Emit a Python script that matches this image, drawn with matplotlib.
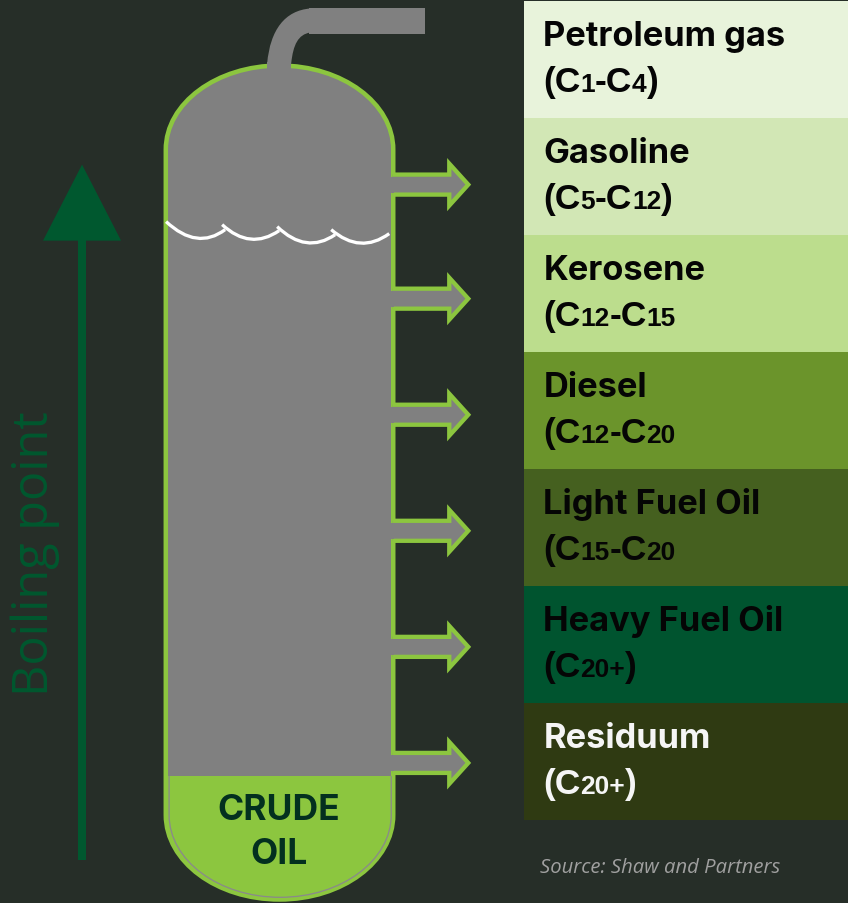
import matplotlib
matplotlib.use('Agg')
import matplotlib.pyplot as plt
from matplotlib.patches import PathPatch, Polygon, Rectangle
from matplotlib.path import Path

# fractions, top to bottom
fractions = ['Petroleum gas', 'Gasoline', 'Kerosene', 'Diesel',
             'Light Fuel Oil', 'Heavy Fuel Oil', 'Residuum']
carbon_low = ['1', '5', '12', '12', '15', '20+', '20+']
carbon_high = ['4', '12', '15', '20', '20', None, None]
closing = [')', ')', '', '', '', ')', ')']
panel_colors = ['#e8f3db', '#d2e7b5', '#bcdd8d', '#6b942b',
                '#45601f', '#00542f', '#2f3a12']
text_colors = ['#050505', '#050505', '#050505', '#050505',
               '#050505', '#050505', '#f5f5f5']
outlet_y = [185, 299, 415, 531, 647, 763]

BG = '#262e28'
GREEN = '#8cc63f'
GREY = '#808080'
DARK = '#00582f'

fig = plt.figure(figsize=(8.485, 9.035), dpi=100, facecolor=BG)
ax = fig.add_axes([0, 0, 1, 1])
ax.set_xlim(0, 848)
ax.set_ylim(903, 0)
ax.axis('off')
LW = 72 / 100  # one pixel in points

# vessel shape
K = 0.5523
def vessel_path(l, r, top, dome_t, dome_b, bot):
    cx = (l + r) / 2
    rx = (r - l) / 2
    t = dome_t - top
    b = bot - dome_b
    verts = [(l, dome_b), (l, dome_t),
             (l, dome_t - K * t), (cx - K * rx, top), (cx, top),
             (cx + K * rx, top), (r, dome_t - K * t), (r, dome_t),
             (r, dome_b),
             (r, dome_b + K * b), (cx + K * rx, bot), (cx, bot),
             (cx - K * rx, bot), (l, dome_b + K * b), (l, dome_b),
             (l, dome_b)]
    codes = [Path.MOVETO, Path.LINETO,
             Path.CURVE4, Path.CURVE4, Path.CURVE4,
             Path.CURVE4, Path.CURVE4, Path.CURVE4,
             Path.LINETO,
             Path.CURVE4, Path.CURVE4, Path.CURVE4,
             Path.CURVE4, Path.CURVE4, Path.CURVE4,
             Path.CLOSEPOLY]
    return Path(verts, codes)

ax.add_patch(PathPatch(vessel_path(165.7, 393, 66, 150, 815, 899.5), fc=GREY, ec=GREEN, lw=4.5 * LW, zorder=2))

# crude oil level, clipped to the outside of the vessel wall
outer = PathPatch(vessel_path(165.7, 393, 66, 150, 815, 899.5), fc='none', ec='none')
ax.add_patch(outer)
oil = Rectangle((160, 776), 240, 130, fc=GREEN, ec='none', zorder=3)
ax.add_patch(oil)
oil.set_clip_path(outer)
# thin grey line along the bottom of the vessel
low_line = PathPatch(vessel_path(169, 391, 68, 150, 815, 897.3), fc='none', ec='#8a8a8a', lw=1.3 * LW, zorder=4)
ax.add_patch(low_line)
low_line.set_clip_path(Rectangle((160, 776), 240, 130, transform=ax.transData))

# pipe on top
pipe = Path([(267, 64), (270, 30), (285, 11), (310, 9), (310, 33), (298, 35), (293, 45), (291, 64), (267, 64)],
            [Path.MOVETO, Path.CURVE4, Path.CURVE4, Path.CURVE4, Path.LINETO,
             Path.CURVE4, Path.CURVE4, Path.CURVE4, Path.CLOSEPOLY])
ax.add_patch(PathPatch(pipe, fc=GREY, ec='none', zorder=5))
ax.add_patch(Rectangle((309, 8), 116, 26, fc=GREY, ec='none', zorder=5))
ax.add_patch(Rectangle((267, 62), 24, 8, fc=GREY, ec='none', zorder=5))

# outlet arrows
for y in outlet_y:
    arrow = [(392, y - 10), (449, y - 10), (449, y - 21), (468, y), (449, y + 21), (449, y + 10), (392, y + 10)]
    ax.add_patch(Polygon(arrow, closed=False, fc=GREY, ec=GREEN, lw=4.3 * LW, joinstyle='miter', zorder=5))
    ax.add_patch(Rectangle((389, y - 8), 5, 16, fc=GREY, ec='none', zorder=6))

# surface waves
waves = [((166, 222), (197, 251), (225, 230)),
         ((222, 225), (250, 251), (279, 231)),
         ((277, 227), (306, 255), (335, 235)),
         ((331, 230), (360, 255), (389, 234))]
for a, c, b in waves:
    ax.add_patch(PathPatch(Path([a, c, b], [Path.MOVETO, Path.CURVE3, Path.CURVE3]),
                           fc='none', ec='white', lw=3.3 * LW, zorder=7))

ax.text(279, 810, 'CRUDE', family='Inter', weight='bold', fontsize=25.5, color='#03301f', ha='center', va='center', zorder=8)
ax.text(279, 854, 'OIL', family='Inter', weight='bold', fontsize=25.5, color='#03301f', ha='center', va='center', zorder=8)

# boiling point arrow
ax.add_patch(Rectangle((78, 240), 8, 620, fc=DARK, ec='none', zorder=2))
ax.add_patch(Polygon([(82, 165), (121, 241), (43, 241)], fc=DARK, ec='none', zorder=3))
ax.text(35, 696, 'Boiling point', family='Open Sans', fontsize=35, color=DARK, rotation=90, ha='center', va='bottom', zorder=3)

# side panels
top = 1
height = 117
renderer = fig.canvas.get_renderer()

def run_text(x, y, parts, color):
    for s, size in parts:
        t = ax.text(x, y, s, family='Liberation Sans', weight='bold', fontsize=size, color=color, va='baseline', zorder=4)
        x = ax.transData.inverted().transform(t.get_window_extent(renderer).get_points())[1][0]

for i, name in enumerate(fractions):
    y0 = top + i * height
    ax.add_patch(Rectangle((524, y0), 324, height, fc=panel_colors[i], ec='none', zorder=2))
    ax.text(543, y0 + 45, name, family='Inter', weight='bold', fontsize=24.8, color=text_colors[i], va='baseline', zorder=4)
    parts = [('(C', 25.5), (carbon_low[i], 19)]
    if carbon_high[i] is not None:
        parts += [('-C', 25.5), (carbon_high[i], 19)]
    if closing[i]:
        parts.append((closing[i], 25.5))
    run_text(542.5, y0 + 91, parts, text_colors[i])

ax.text(540, 868, 'Source: Shaw and Partners', family='Open Sans', style='italic', fontsize=14.6, color='#a0a0a0', va='center', zorder=4)

plt.savefig('out.png', dpi=100, facecolor=BG)
